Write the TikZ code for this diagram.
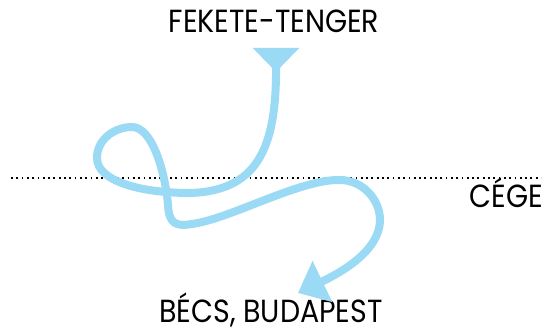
\documentclass[tikz,border=0pt]{standalone}
\usepackage{fontspec}
\setmainfont{Poppins}
\newfontfamily\labelfont{Poppins}[FakeStretch=0.89]
\usetikzlibrary{arrows.meta}
\definecolor{river}{RGB}{155,218,245}
\tikzset{
  label/.style={font=\labelfont\fontsize{32}{36}\selectfont, text=black, inner sep=0pt, anchor=base},
  riverline/.style={draw=river, line width=8pt, line cap=round, line join=round},
  border/.style={dash pattern=on 1.8pt off 3.5pt, line width=1.8pt, black}
}
\begin{document}
\begin{tikzpicture}[x=1pt,y=1pt]
\useasboundingbox (0,0) rectangle (547,331);
% border line
\coordinate (bl) at (11,153);
\coordinate (br) at (541,153);
\draw[border] (bl) -- (br);
% labels
\node[label] (top) at (274,298) {FEKETE-TENGER};
\node[label, text depth=0pt] (bottom) at (271,8) {BÉCS, BUDAPEST};
\node[label, anchor=base east] (cege) at (543,123) {CÉGE};
% river
\coordinate (s) at (276,283);
\coordinate (e) at (298,38);
\draw[riverline, {Triangle[reversed,length=24pt,width=45pt]}-{Triangle[length=27pt,width=44pt]}]
  (s) -- (276,269)
  .. controls (277,190) and (262,140) .. (190,138)
  .. controls (140,138) and (97,150) .. (97,173)
  .. controls (97,192) and (115,204) .. (132,204)
  .. controls (152,204) and (165,160) .. (168,126)
  .. controls (169,108) and (175,104) .. (192,107)
  .. controls (230,112) and (300,152) .. (340,151)
  .. controls (362,151) and (380,132) .. (380,111)
  .. controls (380,80) and (340,58) .. (e);
\end{tikzpicture}
\end{document}
